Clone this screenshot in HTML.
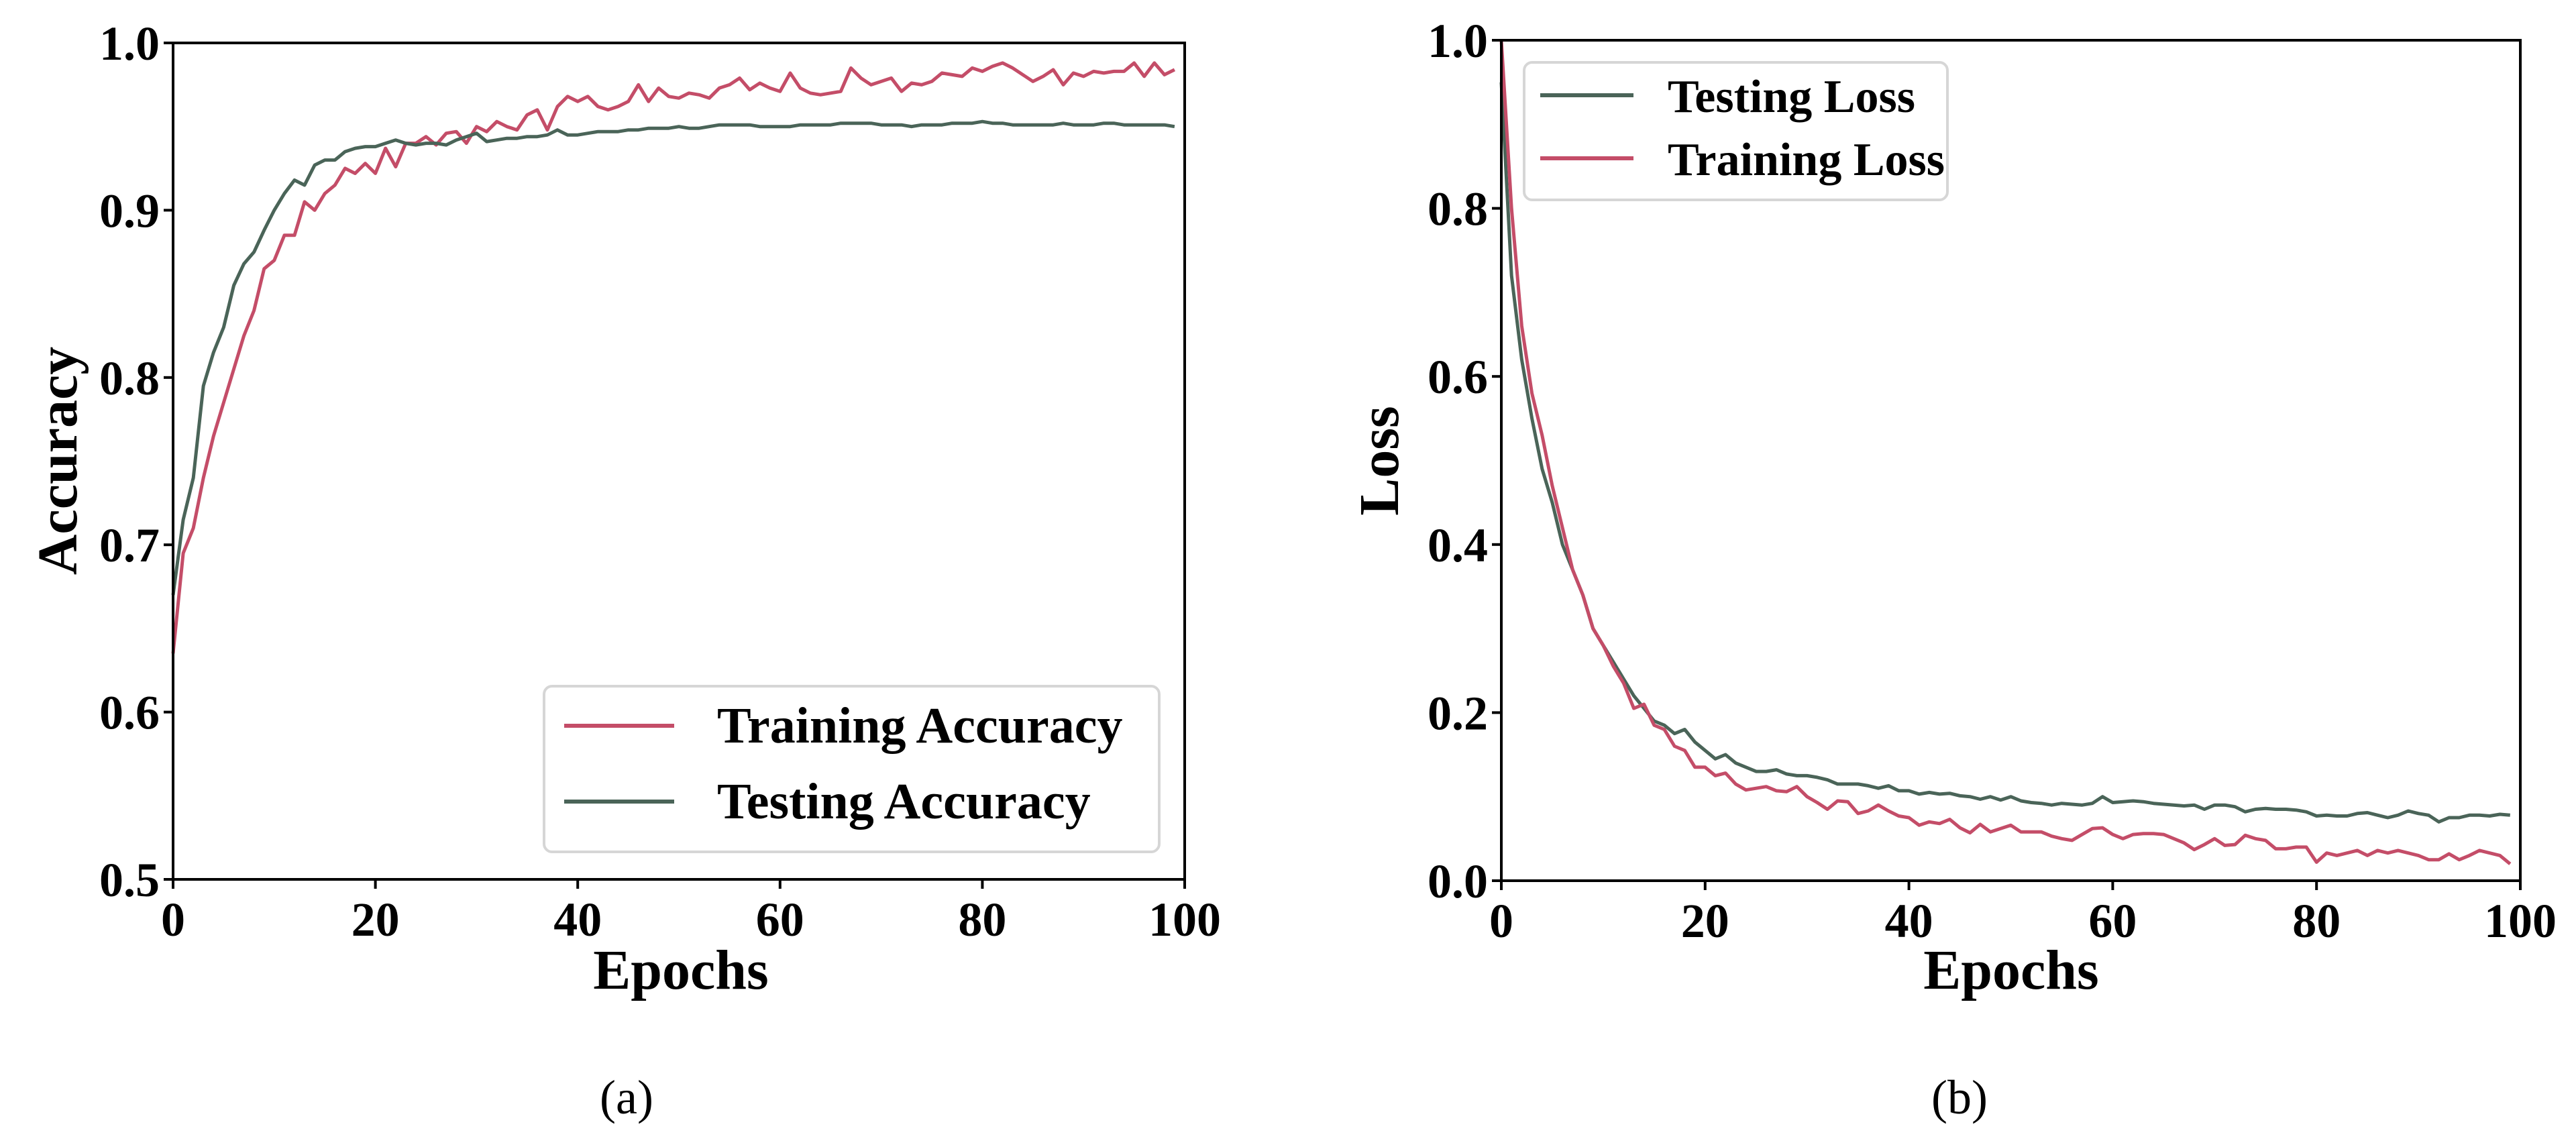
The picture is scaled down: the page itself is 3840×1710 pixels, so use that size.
<!DOCTYPE html>
<html><head><meta charset="utf-8"><style>
html,body{margin:0;padding:0;background:#fff;}
svg{display:block;font-family:"Liberation Serif",serif;}
</style></head><body>
<svg id="chart" width="3840" height="1710" viewBox="0 0 3840 1710" xmlns="http://www.w3.org/2000/svg"></svg>
<script>
const epochs = Array.from({length:100},(_,i)=>i);
const trainAcc=[0.635,0.695,0.71,0.74,0.765,0.785,0.805,0.825,0.84,0.865,0.87,0.885,0.885,0.905,0.9,0.91,0.915,0.925,0.922,0.928,0.922,0.937,0.926,0.94,0.94,0.944,0.939,0.946,0.947,0.94,0.95,0.947,0.953,0.95,0.948,0.957,0.96,0.948,0.962,0.968,0.965,0.968,0.962,0.96,0.962,0.965,0.975,0.965,0.973,0.968,0.967,0.97,0.969,0.967,0.973,0.975,0.979,0.972,0.976,0.973,0.971,0.982,0.973,0.97,0.969,0.97,0.971,0.985,0.979,0.975,0.977,0.979,0.971,0.976,0.975,0.977,0.982,0.981,0.98,0.985,0.983,0.986,0.988,0.985,0.981,0.977,0.98,0.984,0.975,0.982,0.98,0.983,0.982,0.983,0.983,0.988,0.98,0.988,0.981,0.984];
const testAcc=[0.67,0.715,0.74,0.795,0.815,0.83,0.855,0.868,0.875,0.888,0.9,0.91,0.918,0.915,0.927,0.93,0.93,0.935,0.937,0.938,0.938,0.94,0.942,0.94,0.939,0.94,0.94,0.939,0.942,0.944,0.946,0.941,0.942,0.943,0.943,0.944,0.944,0.945,0.948,0.945,0.945,0.946,0.947,0.947,0.947,0.948,0.948,0.949,0.949,0.949,0.95,0.949,0.949,0.95,0.951,0.951,0.951,0.951,0.95,0.95,0.95,0.95,0.951,0.951,0.951,0.951,0.952,0.952,0.952,0.952,0.951,0.951,0.951,0.95,0.951,0.951,0.951,0.952,0.952,0.952,0.953,0.952,0.952,0.951,0.951,0.951,0.951,0.951,0.952,0.951,0.951,0.951,0.952,0.952,0.951,0.951,0.951,0.951,0.951,0.95];
const testLoss=[0.95,0.72,0.62,0.55,0.49,0.45,0.40,0.37,0.34,0.30,0.28,0.26,0.24,0.22,0.205,0.19,0.185,0.175,0.18,0.165,0.155,0.145,0.15,0.14,0.135,0.13,0.13,0.132,0.127,0.125,0.125,0.123,0.12,0.115,0.115,0.115,0.113,0.11,0.113,0.107,0.107,0.103,0.105,0.103,0.104,0.101,0.1,0.097,0.1,0.096,0.1,0.095,0.093,0.092,0.09,0.092,0.091,0.09,0.092,0.1,0.093,0.094,0.095,0.094,0.092,0.091,0.09,0.089,0.09,0.085,0.09,0.09,0.088,0.082,0.085,0.086,0.085,0.085,0.084,0.082,0.077,0.078,0.077,0.077,0.08,0.081,0.078,0.075,0.078,0.083,0.08,0.078,0.07,0.075,0.075,0.078,0.078,0.077,0.079,0.078];
const trainLoss=[1.0,0.8,0.66,0.58,0.53,0.47,0.42,0.37,0.34,0.30,0.28,0.255,0.235,0.205,0.21,0.185,0.18,0.16,0.155,0.135,0.135,0.125,0.128,0.115,0.108,0.11,0.112,0.107,0.106,0.112,0.1,0.093,0.085,0.095,0.094,0.08,0.083,0.09,0.083,0.077,0.075,0.066,0.07,0.068,0.073,0.063,0.057,0.067,0.058,0.062,0.066,0.058,0.058,0.058,0.053,0.05,0.048,0.055,0.062,0.063,0.055,0.05,0.055,0.056,0.056,0.055,0.05,0.045,0.037,0.043,0.05,0.042,0.043,0.054,0.05,0.048,0.038,0.038,0.04,0.04,0.022,0.033,0.03,0.033,0.036,0.03,0.036,0.033,0.036,0.033,0.03,0.025,0.025,0.032,0.025,0.03,0.036,0.033,0.03,0.02];
const xTicks=[0,20,40,60,80,100];
const accTicks=[0.5,0.6,0.7,0.8,0.9,1.0];
const lossTicks=[0.0,0.2,0.4,0.6,0.8,1.0];

const svg=document.getElementById('chart');
const NS='http://www.w3.org/2000/svg';
function mk(tag,attrs,parent){const e=document.createElementNS(NS,tag);for(const k in attrs)e.setAttribute(k,attrs[k]);(parent||svg).appendChild(e);return e;}
const RED='#c44d68', GRN='#4a6458';

function panel(p){
  const g=mk('g',{});
  
  
  const X=v=>p.L+(v-0)/(100-0)*(p.R-p.L);
  const Y=v=>p.B-(v-p.ymin)/(p.ymax-p.ymin)*(p.B-p.T);
  [[p.s1,p.c1,p.n1],[p.s2,p.c2,p.n2]].forEach(([s,c,n])=>{
    const d=s.map((v,i)=>(i?'L':'M')+X(epochs[i]).toFixed(1)+','+Y(v).toFixed(1)).join('');
    const path=mk('path',{d:d,fill:'none',stroke:c,'stroke-width':5,'stroke-linejoin':'round'},g);
    
    
  });
  const frame=mk('rect',{x:p.L,y:p.T,width:p.R-p.L,height:p.B-p.T,fill:'none',stroke:'#000','stroke-width':4},g);
  
  
  xTicks.forEach(t=>{
    mk('line',{x1:X(t),x2:X(t),y1:p.B,y2:p.B+14,stroke:'#000','stroke-width':4},g);
    const tx=mk('text',{x:X(t),y:p.B+84,'font-size':72,'font-weight':'bold','text-anchor':'middle'},g);
    tx.textContent=String(t);
    
    
  });
  p.yt.forEach(t=>{
    mk('line',{x1:p.L-14,x2:p.L,y1:Y(t),y2:Y(t),stroke:'#000','stroke-width':4},g);
    const tx=mk('text',{x:p.L-20,y:Y(t)+25,'font-size':72,'font-weight':'bold','text-anchor':'end'},g);
    tx.textContent=t.toFixed(1);
    
    
  });
  const xl=mk('text',{x:p.xlx,y:1474,'font-size':84,'font-weight':'bold','text-anchor':'middle'},g);
  xl.textContent='Epochs';
  
  
  const yl=mk('text',{x:0,y:0,'font-size':84,'font-weight':'bold','text-anchor':'middle',transform:`translate(${p.ylx},${p.yly}) rotate(-90)`},g);
  yl.textContent=p.ylabel;
  
  
  const lg=mk('g',{},g);
  
  
  mk('rect',{x:p.lg[0],y:p.lg[1],width:p.lg[2],height:p.lg[3],rx:12,fill:'#fff',stroke:'#d6d6d6','stroke-width':4},lg);
  p.entries.forEach(e=>{
    const ln=mk('line',{x1:e.x1,x2:e.x2,y1:e.y,y2:e.y,stroke:e.c,'stroke-width':6},lg);
    
    
    const tx=mk('text',{x:e.tx,y:e.y+25,'font-size':e.fs,'font-weight':'bold'},lg);
    tx.textContent=e.t;
    
    
  });
  const cap=mk('text',{x:p.capx,y:1660,'font-size':72,'text-anchor':'middle'},g);
  cap.textContent=p.cap;
  
  
}

panel({name:'accuracy-chart',L:258,R:1766,T:64,B:1311,ymin:0.5,ymax:1.0,yt:accTicks,
  s1:trainAcc,c1:RED,n1:'training-accuracy-line',s2:testAcc,c2:GRN,n2:'testing-accuracy-line',
  xlx:1015,ylx:114,yly:687,ylabel:'Accuracy',cap:'(a)',capx:934,
  lg:[811,1023,917,247],
  entries:[{x1:841,x2:1005,y:1082,c:RED,tx:1069,t:'Training Accuracy',fs:76},
           {x1:841,x2:1005,y:1195,c:GRN,tx:1069,t:'Testing Accuracy',fs:76}]});
panel({name:'loss-chart',L:2238,R:3757,T:60,B:1313,ymin:0,ymax:1.0,yt:lossTicks,
  s1:testLoss,c1:GRN,n1:'testing-loss-line',s2:trainLoss,c2:RED,n2:'training-loss-line',
  xlx:2998,ylx:2084,yly:687,ylabel:'Loss',cap:'(b)',capx:2921,
  lg:[2272,93,631,205],
  entries:[{x1:2296,x2:2435,y:142,c:GRN,tx:2486,t:'Testing Loss',fs:70},
           {x1:2296,x2:2435,y:236,c:RED,tx:2486,t:'Training Loss',fs:70}]});
</script>
</body></html>
